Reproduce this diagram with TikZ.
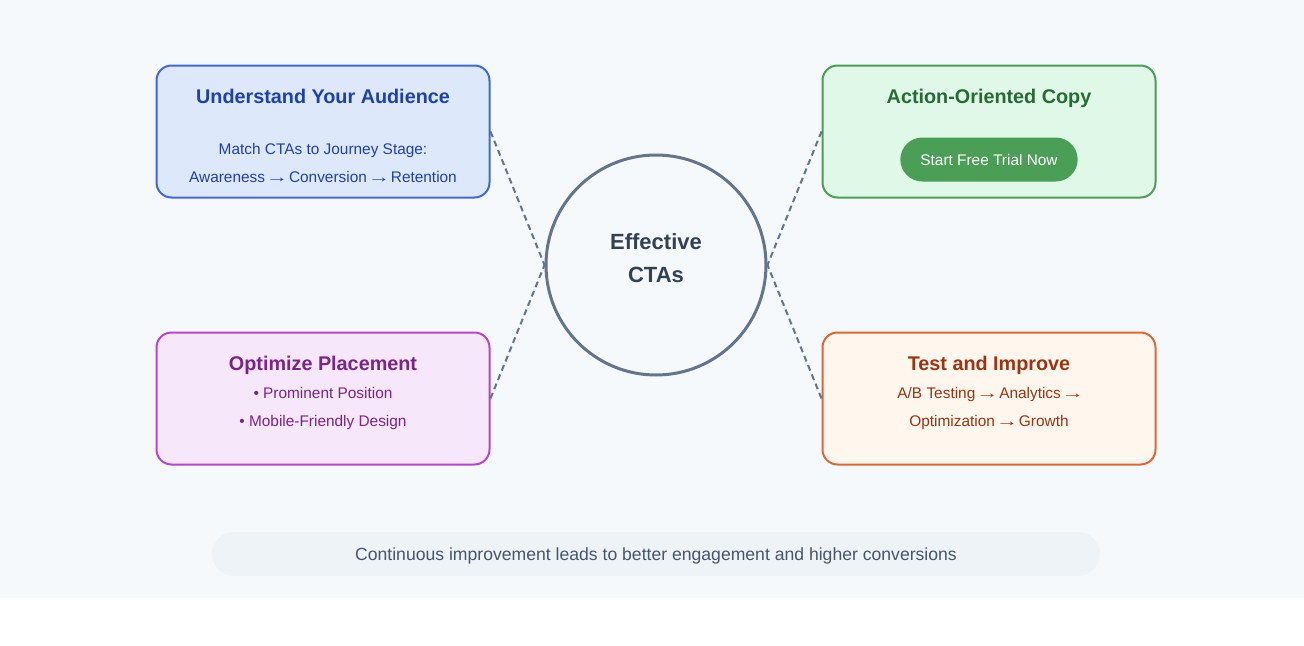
\documentclass[tikz,border=0pt]{standalone}
\usepackage{fontspec}
\usepackage{graphicx}
\setmainfont{Liberation Sans}
\newcommand{\stepto}{\makebox[1em]{\scalebox{1.45}[1.0]{→}}}
\usetikzlibrary{calc}

\definecolor{pagebg}{HTML}{F6F9FC}
\definecolor{bannerbg}{HTML}{EEF3F8}
\definecolor{slate}{HTML}{64748B}
\definecolor{slatedark}{HTML}{334155}
\definecolor{slatemid}{HTML}{475569}
\definecolor{blueline}{HTML}{3F67E0}
\definecolor{bluefill}{HTML}{DDE9FB}
\definecolor{bluetext}{HTML}{1E40AF}
\definecolor{greenline}{HTML}{4A9E55}
\definecolor{greenfill}{HTML}{E0F8E7}
\definecolor{greentext}{HTML}{276B34}
\definecolor{purpleline}{HTML}{B845CF}
\definecolor{purplefill}{HTML}{F6E7FB}
\definecolor{purpletext}{HTML}{7B2388}
\definecolor{orangeline}{HTML}{DD6633}
\definecolor{orangefill}{HTML}{FFF7ED}
\definecolor{orangetext}{HTML}{9A3412}

\tikzset{
  card/.style={draw, line width=1.5pt, rounded corners=11.25pt, minimum width=249.75pt, minimum height=99pt, inner sep=0pt},
  cardtitle/.style={anchor=base, font=\fontsize{14.85}{17}\selectfont\bfseries},
  cardtext/.style={anchor=base, font=\fontsize{11.55}{14}\selectfont},
  link/.style={draw=slate, line width=1.5pt, dash pattern=on 4.5pt off 3pt},
}

\begin{document}
\begin{tikzpicture}[x=0.75pt,y=-0.75pt]
  %%%%% START %%%%%

  \fill[pagebg] (0,0) rectangle (1304,598);
  \useasboundingbox (0,0) rectangle (1304,646);

  % four cards
  \node[card, draw=blueline, fill=bluefill] (audience) at (323,131.5) {};
  \node[card, draw=greenline, fill=greenfill] (copy) at (989,131.5) {};
  \node[card, draw=purpleline, fill=purplefill] (placement) at (323,398.5) {};
  \node[card, draw=orangeline, fill=orangefill] (testing) at (989,398.5) {};

  % hub
  \node[circle, draw=slate, fill=pagebg, line width=2.25pt, minimum size=165pt] (hub) at (656,265) {};
  \node[anchor=base, text=slatedark, font=\fontsize{16.5}{20}\selectfont\bfseries] (hubtop) at (656,249) {Effective};
  \node[anchor=base, text=slatedark, font=\fontsize{16.5}{20}\selectfont\bfseries] (hubbot) at (656,282.5) {CTAs};

  % dashed links
  \draw[link] (audience.east) -- (hub.west);
  \draw[link] (placement.east) -- (hub.west);
  \draw[link] (copy.west) -- (hub.east);
  \draw[link] (testing.west) -- (hub.east);

  % card texts
  \node[cardtitle, text=bluetext] (audtitle) at (323,103) {Understand Your Audience};
  \node[cardtext, text=bluetext] (audline1) at (323,154) {Match CTAs to Journey Stage:};
  \node[cardtext, text=bluetext] (audline2) at (323,182) {Awareness \stepto{} Conversion \stepto{} Retention};

  \node[cardtitle, text=greentext] (copytitle) at (989,103) {Action-Oriented Copy};
  \node[rounded corners=16.5pt, fill=greenline, minimum width=133pt, minimum height=33pt, inner sep=0pt] (ctabtn) at (989,159.5) {};
  \node[cardtext, text=white] (ctalabel) at (989,165) {Start Free Trial Now};

  \node[cardtitle, text=purpletext] (placetitle) at (323,370.5) {Optimize Placement};
  \node[cardtext, text=purpletext] (placeline1) at (323,398) {• Prominent Position};
  \node[cardtext, text=purpletext] (placeline2) at (323,426) {• Mobile-Friendly Design};

  \node[cardtitle, text=orangetext] (testtitle) at (989,370.5) {Test and Improve};
  \node[cardtext, text=orangetext] (testline1) at (989,398) {A/B Testing \stepto{} Analytics \stepto};
  \node[cardtext, text=orangetext] (testline2) at (989,426) {Optimization \stepto{} Growth};

  % footer
  \node[rounded corners=16.5pt, fill=bannerbg, minimum width=666pt, minimum height=33pt, inner sep=0pt] (banner) at (656,554) {};
  \node[anchor=base, text=slatemid, font=\fontsize{13.2}{16}\selectfont] (bannertext) at (656,560) {Continuous improvement leads to better engagement and higher conversions};

  %%%%% END %%%%%
\end{tikzpicture}
\end{document}
